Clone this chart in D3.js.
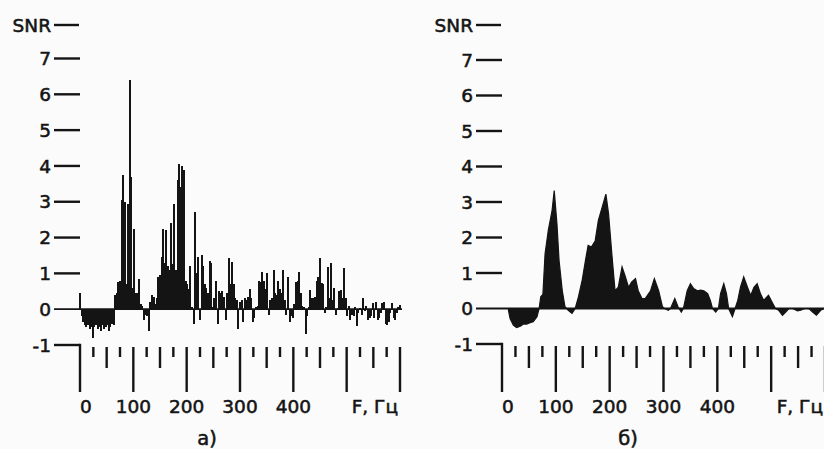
<!DOCTYPE html>
<html>
<head>
<meta charset="utf-8">
<script src="https://cdn.jsdelivr.net/npm/d3@7"></script>
<style>
  html, body { margin: 0; padding: 0; background: #fbfbfb; }
  svg { display: block; font-family: "DejaVu Sans", sans-serif; }
  text { stroke: #141414; stroke-width: 0.55px; }
</style>
</head>
<body>
<svg id="chart" width="824" height="449"></svg>
<script>
// panel a) - raw SNR spectrum, one value every 3 Hz (0..600)
const stepA = 3;
const snrA = [
  0.45, -0.2, -0.35, -0.45, -0.5, -0.45, -0.55, -0.5, -0.8, -0.5,
  -0.45, -0.55, -0.5, -0.6, -0.45, -0.55, -0.5, -0.45, -0.6, -0.5,
  -0.4, -0.45, 0.4, 0.45, 0.75, 0.8, 3.05, 3.75, 3.0, 0.7,
  2.95, 6.4, 3.7, 0.6, 2.25, 0.45, 0.45, 0.85, 0.15, 0.1,
  -0.3, -0.15, -0.2, -0.6, 0.2, 0.4, 0.35, 0.15, 0.3, 0.9,
  0.95, 1.45, 2.25, 1.3, 2.2, 1.2, 1.1, 2.4, 1.25, 2.95,
  1.1, 3.6, 4.05, 3.4, 4.0, 3.9, 0.8, 0.7, 0.55, 1.2,
  0.05, -0.4, 2.7, 1.0, 1.45, -0.3, 1.5, 1.2, 0.7, 0.6,
  0.45, 1.35, 1.3, 0.05, 0.3, 0.8, -0.4, 0.5, 0.45, 0.5,
  0.35, -0.3, 0.45, 1.42, 0.7, 1.33, 0.7, 0.3, 0.25, -0.55,
  0.2, 0.25, -0.35, 0.3, 0.25, 0.35, 0.55, 0.3, -0.35, -0.25,
  0.05, 0.1, 0.8, 0.75, 1.05, 0.8, 0.55, 1.0, -0.15, 0.25,
  0.3, 1.1, 0.45, 0.4, 0.8, 0.55, 0.45, 1.1, 0.25, -0.15,
  0.9, -0.35, -0.2, -0.25, 0.15, 0.77, 0.8, 1.05, 0.45, 0.1,
  0.05, -0.68, -0.2, 0.05, 0.53, 0.3, 0.3, 0.35, 0.8, 0.9,
  1.42, 0.72, 0.7, -0.12, 0.05, 1.19, 0.3, 1.3, 0.25, 0.58,
  -0.15, 0.02, 0.5, 0.53, 0.3, 1.14, 0.3, -0.2, 0.1, -0.3,
  -0.15, -0.2, 0.05, -0.48, -0.1, 0.02, -0.15, 0.3, -0.05, 0.1,
  -0.3, -0.25, -0.2, 0.16, -0.25, 0.2, -0.3, -0.25, -0.1, 0.16,
  0.2, -0.4, -0.45, -0.35, -0.1, 0.16, -0.25, -0.3, -0.1, 0.05,
  0.11
];

// panel б) - smoothed SNR spectrum
const freqB = [
  12, 15, 21, 27, 34, 40, 46, 52, 58, 65,
  69, 72, 76, 80, 86, 93, 97, 102, 106, 112,
  117, 123, 130, 136, 142, 149, 155, 160, 166, 173,
  179, 186, 193, 198, 204, 210, 216, 223, 229, 235,
  241, 248, 253, 260, 266, 276, 283, 291, 298, 302,
  309, 313, 317, 321, 327, 333, 337, 344, 350, 356,
  363, 369, 375, 382, 387, 391, 397, 402, 406, 412,
  417, 421, 428, 433, 438, 443, 449, 456, 462, 468,
  474, 480, 486, 495, 503, 508, 514, 521, 527, 533,
  540, 549, 555, 562, 570, 577, 584, 592, 598
];
const snrB = [
  -0.05, -0.28, -0.47, -0.54, -0.5, -0.44, -0.44, -0.4, -0.37, -0.23,
  0, 0.33, 0.4, 1.54, 2.2, 2.76, 3.32, 2.4, 1.35, 0.5,
  0.05, -0.05, -0.14, 0, 0.33, 0.8, 1.35, 1.78, 1.73, 1.9,
  2.48, 2.85, 3.22, 2.66, 1.54, 0.5, 0.6, 1.17, 0.9, 0.6,
  0.75, 0.84, 0.5, 0.28, 0.28, 0.5, 0.84, 0.5, 0.05, 0,
  -0.05, 0, 0.14, 0.28, 0.05, -0.1, 0, 0.5, 0.7, 0.56,
  0.5, 0.52, 0.5, 0.42, 0.23, 0, -0.1, 0, 0.42, 0.7,
  0.42, 0, -0.23, 0, 0.23, 0.6, 0.89, 0.6, 0.37, 0.6,
  0.7, 0.42, 0.23, 0.37, 0.14, 0, -0.05, -0.19, -0.1, 0,
  0, -0.07, -0.05, 0, 0, -0.1, -0.19, -0.05, 0
];

const yTicks = [-1, 0, 1, 2, 3, 4, 5, 6, 7];
const xTicks = d3.range(0, 601, 25);
const xLabels = [0, 100, 200, 300, 400];
const axisTitleY = "SNR";
const axisTitleX = "F, Гц";

const ink = "#141414";
const svg = d3.select("#chart");

// one panel: axes on the left, tick comb below
function drawPanel(opts) {
  let g = svg.append("g");

  let x = d3.scaleLinear().domain([0, 600]).range([opts.x0, opts.x1]);
  let y = d3.scaleLinear().domain([-1, 7]).range([opts.yBot, opts.yTop]);

  // data first, axes on top
  opts.draw(g, x, y);

  let dashL = opts.x0 - 26;

  // y tick dashes + labels
  g.selectAll(".yt").data(yTicks).enter().append("line")
    .attr("x1", dashL).attr("x2", d => d == 0 ? opts.zeroEnd : opts.x0)
    .attr("y1", d => y(d)).attr("y2", d => y(d))
    .attr("stroke", ink).attr("stroke-width", d => d == 0 ? 1.8 : 2.4);

  g.selectAll(".yl").data(yTicks).enter().append("text")
    .attr("x", dashL - 3).attr("y", d => y(d))
    .attr("dy", "0.36em")
    .attr("text-anchor", "end")
    .attr("font-size", 18.5).attr("fill", ink)
    .text(d => d);

  // SNR title with its dash
  g.append("line")
    .attr("x1", dashL).attr("x2", opts.x0 - 1)
    .attr("y1", opts.ySnr).attr("y2", opts.ySnr)
    .attr("stroke", ink).attr("stroke-width", 2.4);
  g.append("text")
    .attr("x", dashL - 3).attr("y", opts.ySnr).attr("dy", "0.36em")
    .attr("text-anchor", "end").attr("font-size", 18.5).attr("fill", ink)
    .text(axisTitleY);

  // corner from -1 dash down to 0 Hz
  let tickTop = y(-1);
  g.selectAll(".xt").data(xTicks).enter().append("line")
    .attr("x1", d => x(d)).attr("x2", d => x(d))
    .attr("y1", d => d == 0 ? tickTop - 1.2 : tickTop + 2)
    .attr("y2", d => d % 100 == 0 ? 392 : (d % 50 == 0 ? 368 : 357))
    .attr("stroke", ink).attr("stroke-width", 2.4);

  g.selectAll(".xl").data(xLabels).enter().append("text")
    .attr("x", d => x(d) + (d == 0 ? 6 : 0)).attr("y", 413)
    .attr("text-anchor", "middle").attr("font-size", 18.5).attr("fill", ink)
    .text(d => d);

  g.append("text")
    .attr("x", x(600) - 2).attr("y", 413)
    .attr("text-anchor", "end").attr("font-size", 18.5).attr("fill", ink)
    .text(axisTitleX);

  g.append("text")
    .attr("x", opts.capX).attr("y", 445)
    .attr("text-anchor", "middle").attr("font-size", 19.5).attr("fill", ink)
    .text(opts.caption);
}

drawPanel({
  x0: 80, x1: 400, yTop: 58.5, yBot: 345, ySnr: 25, zeroEnd: 402,
  capX: 207, caption: "а)",
  draw: (g, x, y) => {
    g.selectAll(".bar").data(snrA).enter().append("rect")
      .attr("x", (d, i) => x(i * stepA) - 1)
      .attr("width", 2)
      .attr("y", d => y(Math.max(0, d)))
      .attr("height", d => Math.abs(y(d) - y(0)))
      .attr("fill", ink)
      .attr("shape-rendering", "crispEdges");
  }
});

drawPanel({
  x0: 502, x1: 825, yTop: 60, yBot: 344, ySnr: 25, zeroEnd: 824,
  capX: 628, caption: "б)",
  draw: (g, x, y) => {
    let pts = freqB.map((f, i) => [f, snrB[i]]);
    let area = d3.area()
      .x(d => x(d[0]))
      .y0(y(0))
      .y1(d => y(d[1]))
      .curve(d3.curveLinear);
    g.append("path").datum(pts)
      .attr("d", area)
      .attr("fill", ink)
      .attr("stroke", ink).attr("stroke-width", 1.2);
  }
});
</script>
</body>
</html>
